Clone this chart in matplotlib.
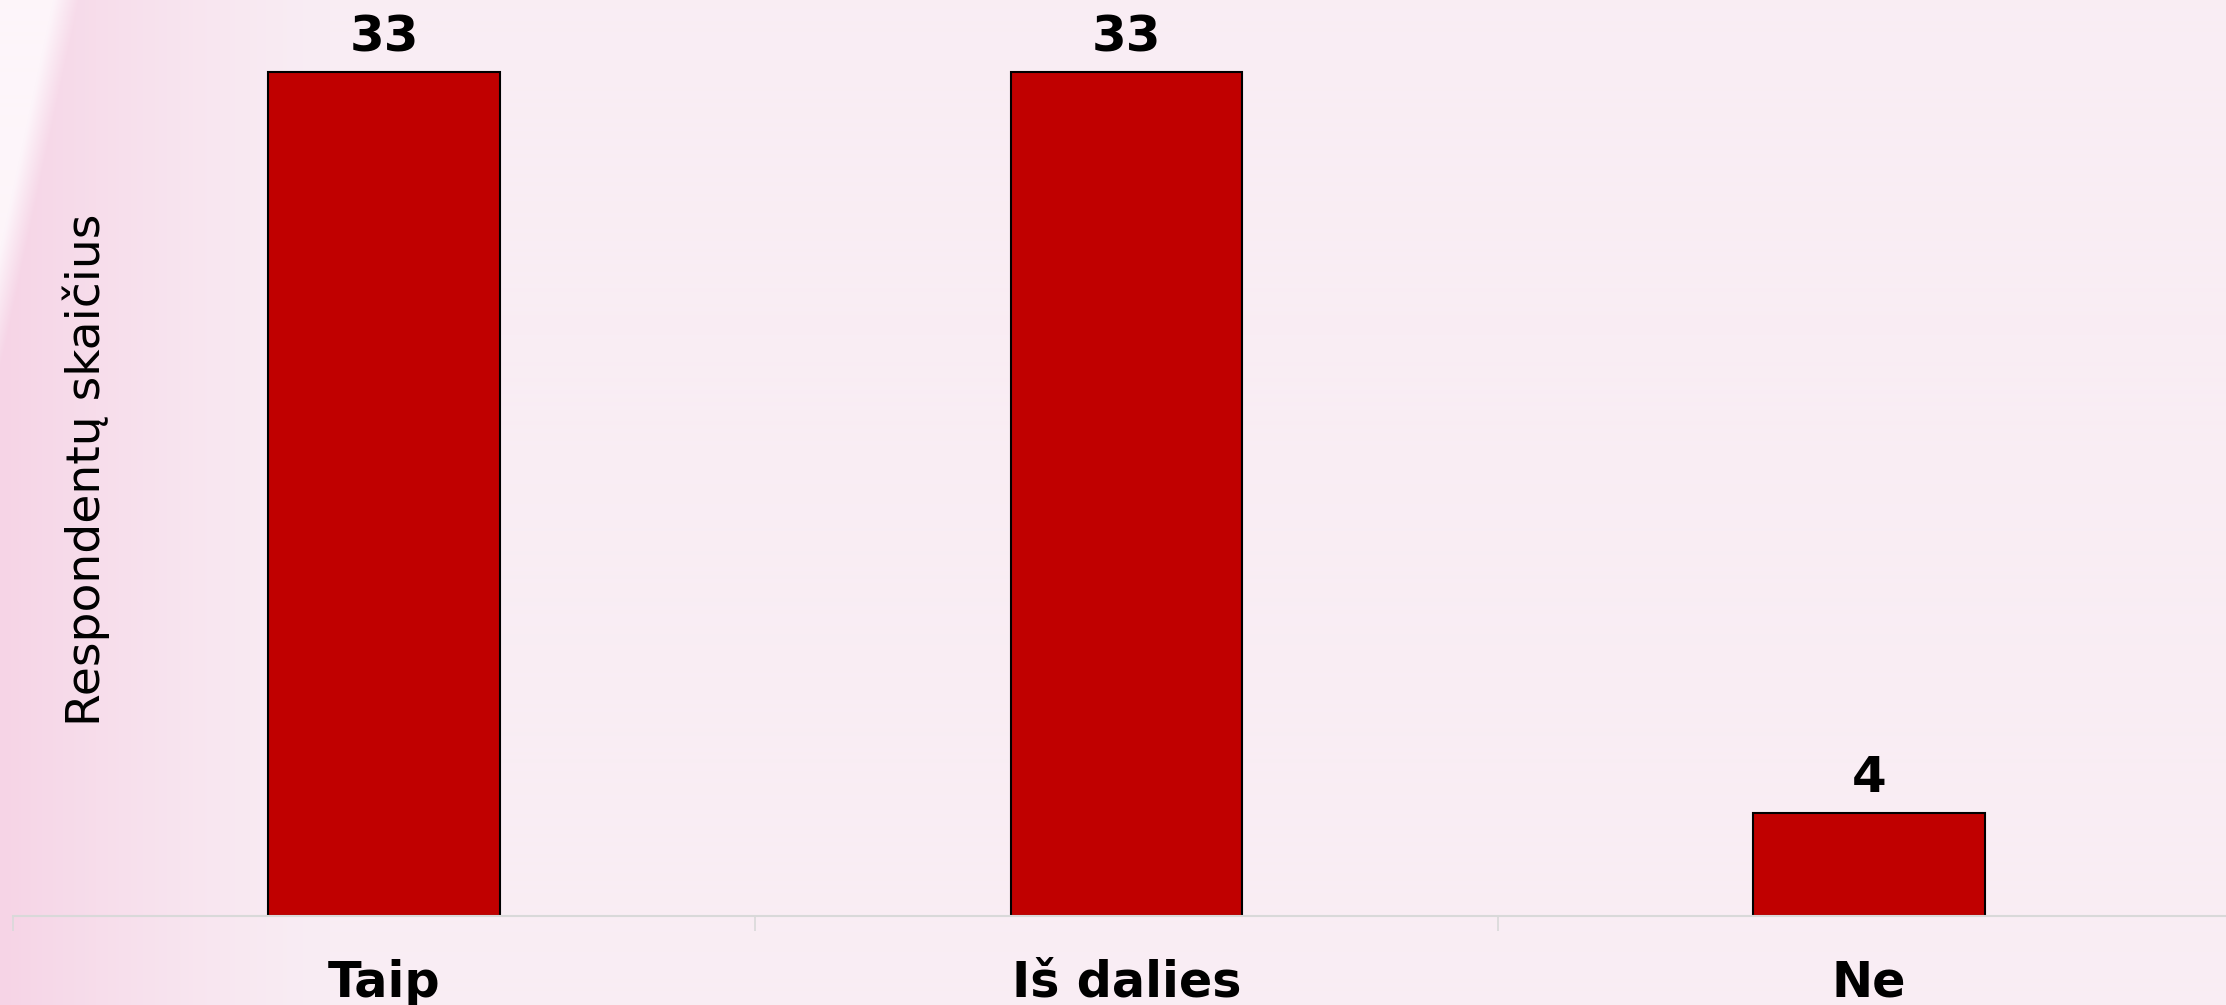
import numpy as np
import matplotlib.pyplot as plt

categories = ['Taip', 'Iš dalies', 'Ne']
counts = [33, 33, 4]
y_label = 'Respondentų skaičius'

bar_color = '#c00000'
bg_color = np.array([249, 237, 244]) / 255.0

W, H = 2226, 1005
fig = plt.figure(figsize=(W / 100, H / 100), dpi=100)

# background: pale pink with a pinker left edge and a light diagonal streak
xx, yy = np.meshgrid(np.arange(W), np.arange(H))
img = np.ones((H, W, 3)) * bg_color
pink = np.array([246, 212, 230]) / 255.0
fade = np.clip(1 - xx / 330.0, 0, 1) ** 1.3
img = img * (1 - fade[..., None]) + pink * fade[..., None]
edge = 71 - yy * 71 / 333.0
streak = np.clip((edge - xx) / 25.0 + 0.3, 0, 1) * (yy < 380)
white = np.array([253, 245, 250]) / 255.0
img = img * (1 - streak[..., None]) + white * streak[..., None]
bg = fig.add_axes([0, 0, 1, 1], zorder=-1)
bg.imshow(img, aspect='auto', extent=[0, 1, 0, 1])
bg.axis('off')

left = 12.8 / W
bottom = 1 - 915.6 / H
ax = fig.add_axes([left, bottom, 2227.5 / W, 1 - bottom])
ax.patch.set_alpha(0)

x = np.arange(len(categories))
bars = ax.bar(x, counts, width=0.312, color=bar_color, edgecolor='black', linewidth=1.5)
for rect, v in zip(bars, counts):
    ax.annotate(str(v), (rect.get_x() + rect.get_width() / 2, v),
                xytext=(0, 8), textcoords='offset points',
                ha='center', va='bottom', fontsize=36, fontweight='bold')

ax.set_xlim(-0.5, 2.5)
ax.set_ylim(0, 915.6 / 25.55)
ax.set_xticks(x)
ax.set_xticklabels(categories, fontsize=35.5, fontweight='bold')
ax.set_xticks(np.arange(-0.5, 3, 1), minor=True)
ax.tick_params(axis='x', which='major', length=0, pad=31)
ax.tick_params(axis='x', which='minor', length=11, width=1.2, color='#d9d9d9', direction='out')
ax.set_yticks([])
for s in ['top', 'right', 'left']:
    ax.spines[s].set_visible(False)
ax.spines['bottom'].set_color('#d9d9d9')
ax.spines['bottom'].set_linewidth(1.5)

fig.text(86 / W, 1 - 470 / H, y_label, rotation=90, fontsize=34,
         ha='center', va='center')

fig.savefig('out.png', dpi=100)
